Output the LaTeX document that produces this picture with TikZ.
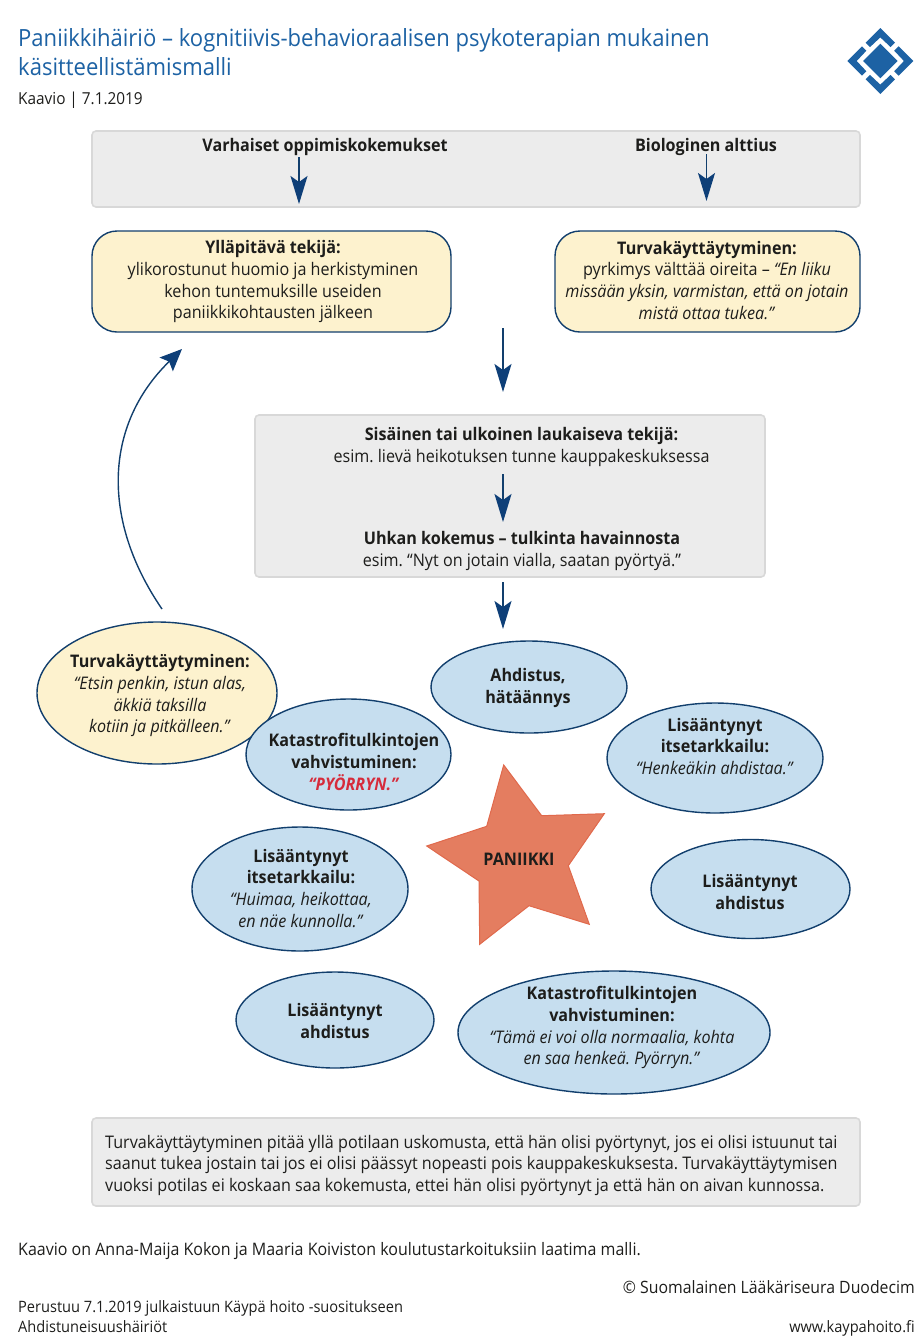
\documentclass[tikz,border=0pt]{standalone}
\usepackage{fontspec}
\setmainfont[FakeStretch=0.93]{Open Sans}
\usetikzlibrary{arrows.meta,shapes.geometric}
\definecolor{titleblue}{HTML}{1D62A4}
\definecolor{navy}{HTML}{123F6D}
\definecolor{headblue}{HTML}{0E3F78}
\definecolor{greyfill}{HTML}{ECECEC}
\definecolor{greyedge}{HTML}{D8D8D8}
\definecolor{yellowfill}{HTML}{FDF2CE}
\definecolor{bluefill}{HTML}{C6DEEF}
\definecolor{starfill}{HTML}{E47D60}
\definecolor{staredge}{HTML}{E0694C}
\definecolor{redtext}{HTML}{D62B3B}
\definecolor{inktext}{HTML}{1D1D1B}
\tikzset{
  x=1pt,y=-1pt,
  body/.style={font=\fontsize{17.35}{21.7}\selectfont\frenchspacing,text=inktext,align=center,inner sep=0pt,yshift=-1.3pt},
  small/.style={font=\fontsize{15.7}{20}\selectfont\frenchspacing,text=inktext,inner sep=0pt},
  headline/.style={anchor=base west,inner sep=0pt,text=titleblue,font=\fontsize{23.7}{29}\selectfont},
  greybox/.style={draw=greyedge,line width=1.6pt,fill=greyfill,rounded corners=4pt,inner sep=0pt},
  yellowbox/.style={draw=navy,line width=1.4pt,fill=yellowfill,rounded corners=25pt,inner sep=0pt},
  blob/.style={ellipse,draw=navy,line width=1.4pt,fill=bluefill,inner sep=0pt},
  yblob/.style={blob,fill=yellowfill},
  flow/.style={draw=navy,line width=1.4pt,-{Stealth[length=28pt,width=17pt,inset=6pt,color=headblue]}},
  flowcurve/.style={draw=navy,line width=1.4pt,-{Stealth[length=22pt,width=19pt,inset=4pt,color=headblue]}},
}
\newcommand{\bx}[1]{\textbf{#1}}
\begin{document}
\begin{tikzpicture}
\useasboundingbox (0,0) rectangle (924,1342);
% header
\node[headline] (title1) at (18,46) {Paniikkihäiriö – kognitiivis-behavioraalisen psykoterapian mukainen};
\node[headline] (title2) at (18,75) {käsitteellistämismalli};
\node[small,anchor=base west,font=\fontsize{16.5}{20}\selectfont] (date) at (18,104) {Kaavio | 7.1.2019};
% logo
\begin{scope}[shift={(880.3,61)},fill=titleblue]
 \fill (0,-17.3) -- (17.3,0) -- (0,17.3) -- (-17.3,0) -- cycle;
 \foreach \a in {0,90,180,270}{
  \fill[rotate=\a] (0,-33) -- (14.7,-18.3) -- (10.3,-13.9) -- (0,-23.6) -- (-10.3,-13.9) -- (-14.7,-18.3) -- cycle;
 }
\end{scope}
% top box
\node[greybox,minimum width=768pt,minimum height=76pt] (topbox) at (476,169) {};
\node[body] (early) at (325,146) {\bx{Varhaiset oppimiskokemukset}};
\node[body] (bio) at (706,146) {\bx{Biologinen alttius}};
\coordinate (a1s) at (299,157); \coordinate (a1e) at (299,204);
\coordinate (a2s) at (706.5,154); \coordinate (a2e) at (706.5,201);
\draw[flow] (a1s) -- (a1e);
\draw[flow] (a2s) -- (a2e);
% yellow boxes
\node[yellowbox,minimum width=359pt,minimum height=101pt] (maint) at (271.5,281.5) {};
\node[body] (mainttext) at (273,280.5) {\bx{Ylläpitävä tekijä:}\\ylikorostunut huomio ja herkistyminen\\kehon tuntemuksille useiden\\paniikkikohtausten jälkeen};
\node[yellowbox,minimum width=305pt,minimum height=101pt] (safe) at (707.5,281.5) {};
\node[body] (safetext) at (707,279) {\bx{Turvakäyttäytyminen:}\\pyrkimys välttää oireita – \textit{“En liiku}\\\textit{missään yksin, varmistan, että on jotain}\\\textit{mistä ottaa tukea.”}};
% middle
\coordinate (a3s) at (503,328); \coordinate (a3e) at (503,392);
\draw[flow] (a3s) -- (a3e);
\node[greybox,minimum width=510pt,minimum height=162pt] (mid) at (510,496) {};
\node[body] (trigger) at (521.5,446) {\bx{Sisäinen tai ulkoinen laukaiseva tekijä:}\\esim. lievä heikotuksen tunne kauppakeskuksessa};
\node[body] (threat) at (522,549.5) {\bx{Uhkan kokemus – tulkinta havainnosta}\\esim. “Nyt on jotain vialla, saatan pyörtyä.”};
\coordinate (a4s) at (503,474); \coordinate (a4e) at (503,522);
\draw[flow] (a4s) -- (a4e);
\coordinate (a5s) at (503,582); \coordinate (a5e) at (503,629);
\draw[flow] (a5s) -- (a5e);
% curved
\coordinate (c1) at (162,609); \coordinate (c2) at (182,349);
\draw[flowcurve] (c1) .. controls (101,520) and (104,425) .. (c2);
% ellipses
\node[yblob,minimum width=240pt,minimum height=142pt] (e0) at (157,693) {};
\node[body] (e0t) at (160,694.5) {\bx{Turvakäyttäytyminen:}\\\textit{“Etsin penkin, istun alas,}\\\textit{äkkiä taksilla}\\\textit{kotiin ja pitkälleen.”}};
\node[blob,minimum width=205pt,minimum height=111pt] (e1) at (348.5,754.5) {};
\node[body] (e1t) at (354,760.5) {\bx{Katastrofitulkintojen}\\\bx{vahvistuminen:}\\\textcolor{redtext}{\textbf{\textit{“PYÖRRYN.”}}}};
\node[blob,minimum width=196pt,minimum height=92pt] (e2) at (529,687) {};
\node[body] (e2t) at (528,687) {\bx{Ahdistus,}\\\bx{hätäännys}};
\node[blob,minimum width=216pt,minimum height=110pt] (e3) at (715,758) {};
\node[body] (e3t) at (715,745) {\bx{Lisääntynyt}\\\bx{itsetarkkailu:}\\\textit{“Henkeäkin ahdistaa.”}};
\node[blob,minimum width=216pt,minimum height=124pt] (e4) at (300,889) {};
\node[body] (e4t) at (301,887) {\bx{Lisääntynyt}\\\bx{itsetarkkailu:}\\\textit{“Huimaa, heikottaa,}\\\textit{en näe kunnolla.”}};
\node[blob,minimum width=199pt,minimum height=99pt] (e5) at (750.5,889) {};
\node[body] (e5t) at (750,891) {\bx{Lisääntynyt}\\\bx{ahdistus}};
\node[blob,minimum width=198pt,minimum height=96pt] (e6) at (335,1020) {};
\node[body] (e6t) at (335,1020) {\bx{Lisääntynyt}\\\bx{ahdistus}};
\node[blob,minimum width=312pt,minimum height=123pt] (e7) at (614,1032.5) {};
\node[body] (e7t) at (612,1026.5) {\bx{Katastrofitulkintojen}\\\bx{vahvistuminen:}\\\textit{“Tämä ei voi olla normaalia, kohta}\\\textit{en saa henkeä. Pyörryn.”}};
% star
\draw[draw=staredge,line width=1pt,fill=starfill,line join=miter]
 (503.7,765) -- (541.7,815.7) -- (604.3,813.7) -- (568.3,865.7) -- (589.3,924.3) -- (529,905.7) -- (479.7,944.3) -- (479,881) -- (426.7,846) -- (486.7,826.3) -- cycle;
\node[body] (panic) at (519,858) {\bx{PANIIKKI}};
% bottom box
\node[greybox,minimum width=768pt,minimum height=88pt] (note) at (476,1162) {};
\node[body,anchor=west,align=left] (notetext) at (105,1164) {Turvakäyttäytyminen pitää yllä potilaan uskomusta, että hän olisi pyörtynyt, jos ei olisi istuunut tai\\saanut tukea jostain tai jos ei olisi päässyt nopeasti pois kauppakeskuksesta. Turvakäyttäytymisen\\vuoksi potilas ei koskaan saa kokemusta, ettei hän olisi pyörtynyt ja että hän on aivan kunnossa.};
% footer
\node[small,anchor=base west,font=\fontsize{17.2}{20}\selectfont] (credit) at (18,1255) {Kaavio on Anna-Maija Kokon ja Maaria Koiviston koulutustarkoituksiin laatima malli.};
\node[small,anchor=base east,font=\fontsize{17}{20}\selectfont] (copy) at (915,1293) {© Suomalainen Lääkäriseura Duodecim};
\node[small,anchor=base west] (based1) at (18,1312) {Perustuu 7.1.2019 julkaistuun Käypä hoito -suositukseen};
\node[small,anchor=base west] (based2) at (18,1332) {Ahdistuneisuushäiriöt};
\node[small,anchor=base east] (web) at (915,1332) {www.kaypahoito.fi};
\end{tikzpicture}
\end{document}
